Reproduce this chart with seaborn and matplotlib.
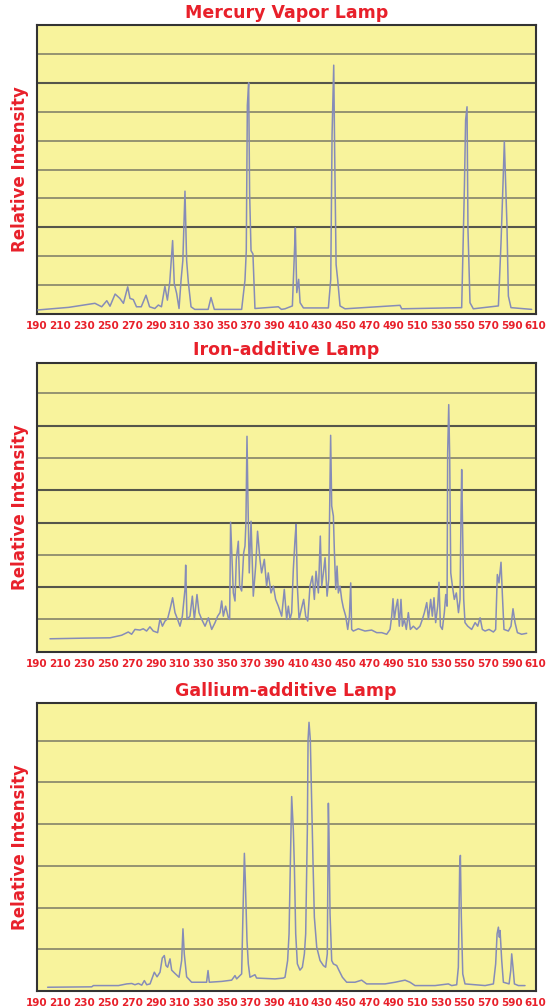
import numpy as np
import pandas as pd
import matplotlib
matplotlib.use("Agg")
import matplotlib.pyplot as plt
import seaborn as sns

# wavelength axis (nm)
tick_labels = list(range(190, 611, 20))

# Mercury vapor lamp spectrum
mercury_nm = [191, 217, 239, 244.7, 249, 251.7, 256, 260, 263, 266.6, 268.5, 271.3, 274, 278,
              282, 285, 289.4, 292.4, 295, 297.9, 300, 302, 304.4, 305.8, 307.8, 309.8, 311.5,
              313, 314.8, 316.2, 317.6, 319.9, 323, 334.3, 336.7, 339.5, 362.5, 365.3, 366.4,
              367.3, 368.4, 369.2, 370.4, 372, 373.7, 393.4, 396, 399, 405.2, 406.9, 407.7,
              408.9, 410.5, 411.7, 414.5, 435.5, 437.5, 438.6, 440, 440.8, 442, 443.3, 445.3,
              449.5, 495.8, 497.2, 547.7, 550, 551, 552.2, 553, 554.7, 557.5, 578.6, 580.8,
              582.5, 583.6, 584.7, 585.8, 587, 589.2, 606.6]
mercury_int = [0.14, 0.23, 0.37, 0.25, 0.46, 0.27, 0.69, 0.54, 0.37, 0.94, 0.54, 0.50, 0.25, 0.25,
               0.65, 0.25, 0.19, 0.31, 0.25, 0.96, 0.48, 1.11, 2.54, 1.05, 0.71, 0.19, 1.17,
               1.85, 4.25, 1.85, 1.11, 0.25, 0.16, 0.16, 0.57, 0.16, 0.16, 1.17, 2.19,
               7.22, 8.0, 4.19, 2.19, 2.08, 0.19, 0.25, 0.16, 0.18, 0.28, 2.11, 2.98,
               0.74, 1.2, 0.39, 0.21, 0.21, 1.2, 6.2, 8.61, 5.56, 1.71, 1.2, 0.28,
               0.18, 0.3, 0.18, 0.22, 4.41, 6.71, 7.17, 2.92, 0.39, 0.18, 0.28, 2.46,
               4.53, 5.97, 4.53, 3.09, 0.62, 0.22, 0.16]

# Iron-additive lamp spectrum
iron_nm = [201.2, 230.6, 251.7, 261.5, 267.1, 269.9, 272.7, 276.9, 279.7, 282.5, 285.3, 288.1,
           291.8, 293.8, 295.8, 298, 300.2, 302.2, 304.4, 306.4, 308.6, 310.6, 312.6, 314.8,
           315.4, 316.5, 319, 321, 322.7, 324.9, 326.6, 328.9, 331.7, 334.5, 337.3, 340.1,
           342.3, 344.3, 345.7, 347.1, 349, 351.3, 352.4, 353.2, 354.1, 355.5, 356.9, 358,
           359.7, 360.8, 362.5, 364.2, 365.3, 366.1, 367, 367.8, 368.9, 370.4, 372.3, 374.3,
           375.9, 377.9, 379.3, 381.6, 383.5, 384.9, 387.2, 389.2, 391.1, 393.4, 396.2, 398.4,
           400.4, 401.8, 403.2, 404.6, 406, 407.4, 408.3, 409.4, 410.8, 413, 414.7, 416.4,
           418.1, 420, 422, 423.7, 425.1, 427.1, 428.7, 429.9, 431.3, 432.7, 434.4, 435.8,
           436.6, 437.4, 438.3, 439.7, 440.5, 441.7, 442.8, 443.9, 445.3, 446.7, 448.1, 450.1,
           451.8, 453.2, 454.3, 455.1, 456.5, 460.7, 466.3, 471.9, 476.2, 480.4, 484.6, 487.4,
           488.8, 489.9, 491, 492.4, 493.8, 495.2, 496.6, 497.8, 499.4, 501.1, 502.8, 504.5,
           507, 509.8, 512.6, 514.6, 516.3, 518.3, 519.7, 521.6, 523, 524.4, 525.8, 527.5,
           528.6, 529.8, 531.4, 533.1, 534.3, 535.4, 535.9, 536.8, 537.6, 538.5, 539.9, 541.5,
           543.2, 545, 546.3, 547.2, 547.7, 548.6, 549.4, 550.5, 552.8, 556.1, 559, 561.2,
           563.2, 565.1, 567.4, 570.7, 574.4, 576.3, 577.7, 579.1, 580.8, 582, 583.3, 587,
           589.2, 590.9, 592.6, 594.6, 598.2, 602.4]
iron_int = [0.40, 0.42, 0.43, 0.51, 0.61, 0.54, 0.69, 0.67, 0.71, 0.64, 0.77, 0.64,
            0.59, 1.02, 0.79, 0.95, 1.02, 1.31, 1.67, 1.21, 1.0, 0.79, 1.10, 1.93,
            2.68, 1.0, 1.10, 1.72, 1.0, 1.77, 1.21, 1.0, 0.79, 1.05, 0.69, 0.90,
            1.10, 1.21, 1.57, 1.10, 1.41, 1.05, 1.0, 4.01, 3.16, 1.82, 1.57, 2.86,
            3.42, 2.03, 1.88, 3.06, 3.27, 3.99, 6.67, 4.71, 2.44, 4.04, 1.72, 2.65,
            3.73, 2.86, 2.44, 2.86, 2.03, 2.44, 1.82, 2.03, 1.62, 1.41, 1.10, 1.93,
            1.0, 1.41, 1.0, 1.21, 2.55, 3.47, 3.94, 2.03, 1.0, 1.36, 1.62, 1.10,
            0.95, 2.03, 2.34, 1.62, 2.49, 1.82, 3.58, 2.03, 2.44, 2.91, 1.72, 2.24,
            4.56, 6.70, 4.51, 4.20, 3.16, 1.93, 2.65, 1.82, 2.03, 1.62, 1.36, 1.10,
            0.69, 1.10, 2.13, 0.69, 0.64, 0.71, 0.64, 0.67, 0.59, 0.59, 0.54, 0.69,
            1.10, 1.64, 1.0, 1.36, 1.62, 0.79, 1.62, 0.79, 1.0, 0.69, 1.21, 0.69,
            0.79, 0.69, 0.79, 1.0, 1.21, 1.52, 1.0, 1.62, 1.10, 1.67, 0.90, 1.41,
            2.15, 0.79, 0.69, 1.21, 1.77, 1.41, 6.15, 7.65, 6.05, 2.44, 2.03, 1.62,
            1.82, 1.21, 1.62, 4.40, 5.64, 3.47, 1.62, 0.90, 0.79, 0.69, 0.90, 0.79,
            1.05, 0.69, 0.64, 0.69, 0.61, 0.69, 2.39, 2.13, 2.77, 1.72, 0.69, 0.64,
            0.79, 1.33, 0.90, 0.59, 0.54, 0.57]

# Gallium-additive lamp spectrum
gallium_nm = [199.2, 236.3, 237.7, 258.8, 265.8, 270, 272.7, 275.6, 278.4, 280.6, 282.6, 285.4,
              289, 291.3, 293.8, 295.7, 297.4, 298.8, 300.2, 302.2, 303.6, 306.4, 309.8, 312,
              313.1, 314.2, 316.2, 320.4, 333, 334.2, 335.3, 345.7, 354.1, 356.9, 358.3, 362.5,
              363.6, 364.8, 365.6, 367, 368.1, 369.5, 373.7, 375.1, 390.6, 397.6, 399, 401.2,
              402.4, 403.2, 404.6, 406, 406.9, 408, 409.4, 411.6, 413.6, 415.3, 416.4, 417.2,
              417.8, 418.4, 419.2, 420.3, 421.4, 422.6, 423.7, 425.7, 428.5, 431.3, 433.2, 434.6,
              435.5, 436, 436.9, 438.3, 439.7, 442.5, 444.5, 447.3, 450.9, 457.9, 463.5, 467.7,
              483.2, 491.6, 500, 504.2, 508.4, 525.3, 536.5, 539.3, 543.5, 544.9, 546, 546.6,
              547.4, 548.6, 550.5, 567.4, 574.4, 576.3, 577.5, 578.6, 579.4, 580, 581.4, 582.8,
              587.6, 589, 589.8, 590.9, 592.1, 595.4, 601]
gallium_int = [0.09, 0.10, 0.13, 0.13, 0.17, 0.18, 0.15, 0.18, 0.14, 0.25, 0.15, 0.17,
               0.45, 0.34, 0.45, 0.79, 0.85, 0.61, 0.57, 0.77, 0.50, 0.42, 0.33, 0.73,
               1.49, 0.89, 0.34, 0.21, 0.21, 0.49, 0.21, 0.23, 0.26, 0.37, 0.29, 0.41,
               1.85, 3.30, 2.65, 1.21, 0.65, 0.33, 0.39, 0.31, 0.29, 0.31, 0.33, 0.73,
               1.37, 2.61, 4.66, 3.86, 2.97, 1.37, 0.65, 0.50, 0.57, 0.89, 1.37, 2.81,
               3.86, 6.02, 6.44, 6.02, 4.58, 3.05, 1.77, 1.05, 0.73, 0.61, 0.57, 0.89,
               4.50, 3.78, 1.85, 0.73, 0.65, 0.61, 0.49, 0.33, 0.21, 0.21, 0.26, 0.17,
               0.17, 0.21, 0.26, 0.21, 0.13, 0.13, 0.17, 0.13, 0.15, 0.57, 2.97, 3.25,
               1.77, 0.41, 0.17, 0.13, 0.17, 0.65, 1.37, 1.53, 1.29, 1.45, 0.73, 0.21,
               0.17, 0.49, 0.89, 0.57, 0.17, 0.13, 0.13]

panels = [
    ("Mercury Vapor Lamp", mercury_nm, mercury_int, 10.0, [3, 8]),
    ("Iron-additive Lamp", iron_nm, iron_int, 8.93, [2, 4, 5, 7]),
    ("Gallium-additive Lamp", gallium_nm, gallium_int, 6.91, []),
]

sns.set_style("white")
plt.rcParams["font.family"] = ["DejaVu Sans"]

RED = "#e8202a"
YELLOW = "#f8f39c"
LINE = "#868cb8"

fig = plt.figure(figsize=(5.5, 10.07), dpi=100)
W, H = 550, 1007
left, right = 36.7, 535.7
frames = [(25, 314), (363.3, 651.7), (702.7, 991)]
title_y = [13.3, 350, 690.7]

for (title, nm, inten, ymax, dark), (top, bottom), ty in zip(panels, frames, title_y):
    ax = fig.add_axes([left / W, 1 - bottom / H, (right - left) / W, (bottom - top) / H])
    ax.set_facecolor(YELLOW)
    for lvl in range(1, int(np.ceil(ymax))):
        if lvl in dark:
            ax.axhline(lvl, color="#55554a", lw=1.5, zorder=1)
        else:
            ax.axhline(lvl, color="#7a7964", lw=1.1, zorder=1)
    df = pd.DataFrame({"nm": nm, "intensity": inten})
    sns.lineplot(data=df, x="nm", y="intensity", ax=ax, color=LINE, linewidth=1.1,
                 estimator=None, sort=False, zorder=3)
    ax.set_xlim(190, 610)
    ax.set_ylim(0, ymax)
    ax.set_xticks(tick_labels)
    ax.set_xticklabels([str(t) for t in tick_labels], color=RED, fontsize=7.5,
                       fontweight="bold", family=["Liberation Sans Narrow", "DejaVu Sans"])
    ax.set_yticks([])
    ax.tick_params(axis="x", length=0, pad=5)
    ax.set_xlabel("")
    ax.set_ylabel("")
    for s in ax.spines.values():
        s.set_color("#333333")
        s.set_linewidth(1.5)
    fig.text((left + right) / 2 / W, 1 - ty / H, title, color=RED, fontsize=12.5,
             fontweight="heavy", ha="center", va="center")
    fig.text(20 / W, 1 - (top + bottom) / 2 / H, "Relative Intensity", color=RED,
             fontsize=12, fontweight="heavy", rotation=90, ha="center", va="center")

fig.savefig("out.png", dpi=100, facecolor="white")
